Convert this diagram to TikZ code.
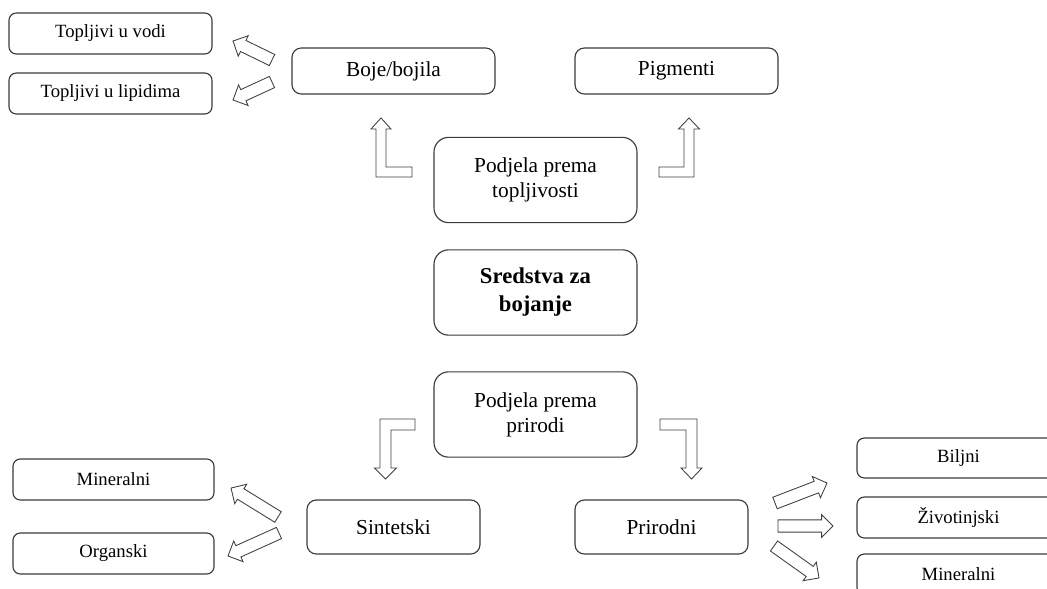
\documentclass[tikz,border=0pt]{standalone}
\usepackage{fontspec}
\setmainfont{Liberation Serif}
\usetikzlibrary{calc,shapes.arrows}
\definecolor{boxline}{HTML}{3A3A3A}
\definecolor{arrline}{HTML}{404040}
\tikzset{
  box/.style={draw=boxline, line width=0.85pt, rectangle, inner sep=0pt, align=center, text=black},
  smallbox/.style={box, rounded corners=5.5pt, minimum width=152.25pt, minimum height=30.75pt, font=\fontsize{14}{16}\selectfont},
  midbox/.style={box, rounded corners=7pt, minimum width=152.25pt, minimum height=34.5pt, font=\fontsize{16}{18}\selectfont},
  bigbox/.style={box, rounded corners=11pt, minimum width=152.25pt, minimum height=64pt, font=\fontsize{16}{18.75}\selectfont},
  blockarrow/.style={single arrow, draw=arrline, line width=0.65pt, fill=white, inner xsep=0pt, inner ysep=4.3pt, outer sep=0pt, single arrow head extend=3.9pt, single arrow tip angle=90},
  bentarrow/.style={draw=arrline, line width=0.65pt, fill=white, line join=miter}
}
\newcommand\barrow[3]{%
  \path let \p1=(#2), \p2=(#3), \n1={atan2(\y2-\y1,\x2-\x1)}, \n2={veclen(\x2-\x1,\y2-\y1)} in
    node[blockarrow, minimum height=\n2, rotate=\n1, anchor=tail] (#1) at (\p1) {};
}
\begin{document}
\begin{tikzpicture}[x=0.75pt, y=-0.75pt]
\clip (0,0) rectangle (1047,589);
\useasboundingbox (0,0) rectangle (1047,589);

% boxes
\node[smallbox] (vodi) at (110.5,33.5) {Topljivi u vodi};
\node[smallbox] (lipidi) at (110.5,93.5) {Topljivi u lipidima};
\node[midbox] (boje) at (393.5,71) {Boje/bojila};
\node[midbox] (pigm) at (676.5,71) {Pigmenti};
\node[bigbox] (topl) at (535.5,180) {Podjela prema\\topljivosti};
\node[bigbox, font=\fontsize{17}{21}\selectfont\bfseries] (sred) at (535.5,292.5) {Sredstva za\\bojanje};
\node[bigbox] (prir) at (535.5,414.5) {Podjela prema\\prirodi};
\node[midbox, minimum width=129.75pt, minimum height=40.5pt] (sint) at (393.5,527) {Sintetski};
\node[midbox, minimum width=129.75pt, minimum height=40.5pt] (prn) at (661.5,527) {Prirodni};
\node[smallbox, minimum width=150.75pt] (minl) at (113.5,479.5) {Mineralni};
\node[smallbox, minimum width=150.75pt] (org) at (113.5,553.5) {Organski};
\node[smallbox, minimum height=30pt] (bilj) at (958.5,458) {Biljni};
\node[smallbox] (ziv) at (958.5,517.5) {Životinjski};
\node[smallbox] (minr) at (958.5,574.5) {Mineralni};

% arrow end points
\coordinate (t1) at (272,60);  \coordinate (h1) at (233,41);
\coordinate (t2) at (272,82);  \coordinate (h2) at (233,100);
\coordinate (t3) at (278,517); \coordinate (h3) at (231,488);
\coordinate (t4) at (279,533); \coordinate (h4) at (228,556);
\coordinate (t5) at (775,503); \coordinate (h5) at (827,483);
\coordinate (t6) at (778,526); \coordinate (h6) at (833,526);
\coordinate (t7) at (774,546); \coordinate (h7) at (819,578);

\barrow{a1}{t1}{h1}
\barrow{a2}{t2}{h2}
\barrow{a3}{t3}{h3}
\barrow{a4}{t4}{h4}
\barrow{a5}{t5}{h5}
\barrow{a6}{t6}{h6}
\barrow{a7}{t7}{h7}

% bent arrows
\draw[bentarrow] (412,167) -- (386,167) -- (386,129) -- (391,129) -- (381,118) -- (371,129) -- (376,129) -- (376,177) -- (412,177) -- cycle;
\draw[bentarrow] (659,167) -- (684,167) -- (684,129) -- (678.5,129) -- (689,118) -- (699.5,129) -- (694,129) -- (694,177) -- (659,177) -- cycle;
\draw[bentarrow] (415,419) -- (380,419) -- (380,468) -- (374.5,468) -- (385.5,479) -- (396.5,468) -- (391,468) -- (391,430) -- (415,430) -- cycle;
\draw[bentarrow] (660,419) -- (697,419) -- (697,468) -- (702,468) -- (691.5,479) -- (681,468) -- (686,468) -- (686,430) -- (660,430) -- cycle;
\end{tikzpicture}
\end{document}
